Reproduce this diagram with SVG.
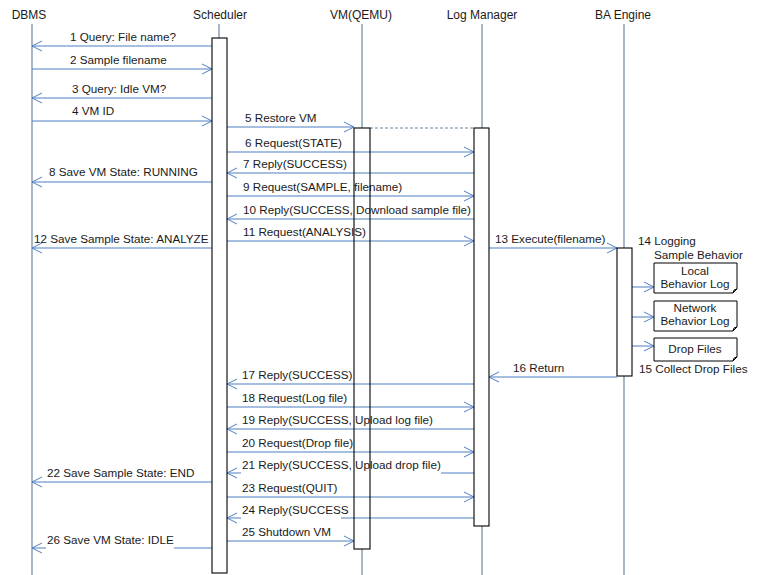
<svg xmlns="http://www.w3.org/2000/svg" width="759" height="575" viewBox="0 0 759 575">
<style>
text{font-family:"Liberation Sans",Arial,sans-serif;font-size:11.7px;fill:#1a1a1a}
.hdr{text-anchor:middle;font-size:12px}
.mid{text-anchor:middle}
.life{stroke:#6a86a0;stroke-width:1.2;fill:none}
.msg{stroke:#4f7fbf;stroke-width:1;fill:none;marker-end:url(#ah)}
.dash{stroke:#6a86a0;stroke-width:1;stroke-dasharray:3,2;fill:none}
.actfill{fill:#fff;stroke:none}
.act{fill:none;stroke:#000;stroke-width:1.1}
.note{fill:#fff;stroke:#000;stroke-width:1}
.bg{fill:#fff}
</style>
<defs>
<marker id="ah" markerUnits="userSpaceOnUse" markerWidth="12" markerHeight="12" refX="10" refY="5" orient="auto" viewBox="0 0 12 10">
<path d="M0,0 L10,5 L0,10" fill="none" stroke="#4f7fbf" stroke-width="1"/>
</marker>
</defs>
<rect width="759" height="575" fill="#fff"/>

<g id="lifelines">
<g id="DBMS"><text class="hdr" x="29" y="19">DBMS</text><line class="life" x1="32" y1="24" x2="32" y2="575"/></g>
<g id="Scheduler"><text class="hdr" x="220" y="19">Scheduler</text><line class="life" x1="219" y1="24" x2="219" y2="38"/><rect class="actfill" x="212" y="38" width="15" height="535"/></g>
<g id="VM"><text class="hdr" x="361" y="19">VM(QEMU)</text><line class="life" x1="362" y1="24" x2="362" y2="575"/><rect class="actfill" x="354" y="128" width="16" height="421"/></g>
<g id="LogManager"><text class="hdr" x="482" y="19">Log Manager</text><line class="life" x1="482" y1="24" x2="482" y2="575"/><rect class="actfill" x="474" y="128" width="15" height="398"/></g>
<g id="BAEngine"><text class="hdr" x="623" y="19">BA Engine</text><line class="life" x1="624" y1="24" x2="624" y2="575"/><rect class="actfill" x="617" y="248" width="15" height="128"/></g>
</g>

<g id="connectors">
<line class="dash" x1="370" y1="128" x2="474" y2="128"/>
<line class="msg" x1="212" y1="46" x2="32" y2="46"/>
<line class="msg" x1="32" y1="69" x2="212" y2="69"/>
<line class="msg" x1="212" y1="98" x2="32" y2="98"/>
<line class="msg" x1="32" y1="121" x2="212" y2="121"/>
<line class="msg" x1="227" y1="127" x2="354" y2="127"/>
<line class="msg" x1="227" y1="152" x2="474" y2="152"/>
<line class="msg" x1="474" y1="173" x2="227" y2="173"/>
<line class="msg" x1="212" y1="182" x2="32" y2="182"/>
<line class="msg" x1="227" y1="196" x2="474" y2="196"/>
<line class="msg" x1="474" y1="219" x2="227" y2="219"/>
<line class="msg" x1="227" y1="241" x2="474" y2="241"/>
<line class="msg" x1="212" y1="248" x2="32" y2="248"/>
<line class="msg" x1="489" y1="248" x2="617" y2="248"/>
<line class="msg" x1="632" y1="287" x2="654" y2="287"/>
<line class="msg" x1="632" y1="317" x2="654" y2="317"/>
<line class="msg" x1="632" y1="346" x2="654" y2="346"/>
<line class="msg" x1="617" y1="377" x2="489" y2="377"/>
<line class="msg" x1="474" y1="384" x2="227" y2="384"/>
<line class="msg" x1="227" y1="407" x2="474" y2="407"/>
<line class="msg" x1="474" y1="429" x2="227" y2="429"/>
<line class="msg" x1="227" y1="452" x2="474" y2="452"/>
<line class="msg" x1="474" y1="473" x2="227" y2="473"/>
<line class="msg" x1="212" y1="482" x2="32" y2="482"/>
<line class="msg" x1="227" y1="497" x2="474" y2="497"/>
<line class="msg" x1="474" y1="518" x2="227" y2="518"/>
<line class="msg" x1="227" y1="541" x2="354" y2="541"/>
<line class="msg" x1="212" y1="548" x2="32" y2="548"/>
</g>

<g id="labels">
<text x="70" y="41">1 Query: File name?</text>
<text x="70" y="64">2 Sample filename</text>
<text x="72" y="93">3 Query: Idle VM?</text>
<text x="72" y="115">4 VM ID</text>
<text x="245" y="122">5 Restore  VM</text>
<text x="245" y="147">6 Request(STATE)</text>
<text x="243" y="168">7 Reply(SUCCESS)</text>
<text x="49" y="176">8 Save VM State: RUNNING</text>
<text x="243" y="191">9 Request(SAMPLE, filename)</text>
<text x="243" y="214">10 Reply(SUCCESS, Download sample file)</text>
<text x="243" y="236">11 Request(ANALYSIS)</text>
<text x="34" y="243">12 Save Sample State: ANALYZE</text>
<text x="495" y="243">13 Execute(filename)</text>
<text x="638" y="245">14 Logging</text>
<text x="654" y="259">Sample Behavior</text>
<text x="639" y="373">15 Collect Drop Files</text>
<text x="513" y="372">16 Return</text>
<text x="242" y="379">17 Reply(SUCCESS)</text>
<text x="242" y="402">18 Request(Log file)</text>
<text x="242" y="424">19 Reply(SUCCESS, Upload log file)</text>
<text x="242" y="447">20 Request(Drop file)</text>
<rect class="bg" x="241" y="460" width="200" height="14"/>
<text x="242" y="469">21 Reply(SUCCESS, Upload drop file)</text>
<text x="47" y="477">22 Save Sample State: END</text>
<text x="242" y="492">23 Request(QUIT)</text>
<rect class="bg" x="241" y="505" width="100" height="14"/>
<text x="242" y="514">24 Reply(SUCCESS</text>
<text x="242" y="536">25 Shutdown VM</text>
<rect class="bg" x="46" y="535" width="128" height="14"/>
<text x="47" y="544">26 Save VM State: IDLE</text>
</g>

<g id="activations">
<rect class="act" x="212" y="38" width="15" height="535"/>
<rect class="act" x="354" y="128" width="16" height="421"/>
<rect class="act" x="474" y="128" width="15" height="398"/>
<rect class="act" x="617" y="248" width="15" height="128"/>
</g>

<g id="note-local">
<path class="note" d="M654,263 H737 V289 L733,293 H654 Z"/>
<path d="M733,293 L734,290 L737,289" fill="none" stroke="#000" stroke-width="1"/>
<text class="mid" x="695" y="275">Local</text>
<text class="mid" x="695" y="288">Behavior Log</text>
</g>
<g id="note-network">
<path class="note" d="M654,301 H737 V327 L733,331 H654 Z"/>
<path d="M733,331 L734,328 L737,327" fill="none" stroke="#000" stroke-width="1"/>
<text class="mid" x="695" y="312">Network</text>
<text class="mid" x="695" y="325">Behavior Log</text>
</g>
<g id="note-drop">
<path class="note" d="M654,338 H737 V357 L733,361 H654 Z"/>
<path d="M733,361 L734,358 L737,357" fill="none" stroke="#000" stroke-width="1"/>
<text class="mid" x="695" y="353">Drop Files</text>
</g>
</svg>
